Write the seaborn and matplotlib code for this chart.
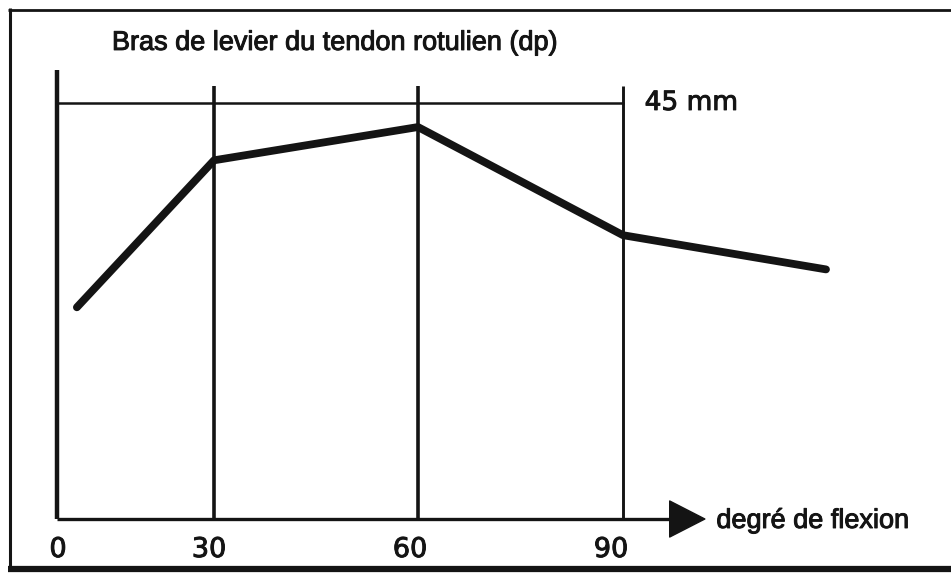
import numpy as np
import pandas as pd
import matplotlib
matplotlib.use('Agg')
import matplotlib.pyplot as plt
import matplotlib.patheffects as pe
import seaborn as sns

# Data (schematic: lever arm of the patellar tendon vs flexion)
flexion_deg = [3.8, 30, 60, 90, 120]
lever_arm_mm = [22.9, 38.8, 42.4, 30.7, 27.0]
tick_deg = [0, 30, 60, 90]
tick_labels = ['0', '30', '60', '90']
ref_mm = 45

df = pd.DataFrame({'deg': flexion_deg, 'mm': lever_arm_mm})

sns.set_style('white')
ink = '#141414'
bold = [pe.withStroke(linewidth=0.7, foreground=ink)]

# the drawing is not linear in x: piecewise scale between the grid lines
brk_deg = np.array([-100, 0, 30, 60, 90, 120, 300])
brk_px = np.array([57 - 100 * 156 / 30, 57, 214, 418, 623, 826, 826 + 180 * 205 / 30])

def fwd(x):
    return np.interp(x, brk_deg, brk_px)

def inv(p):
    return np.interp(p, brk_px, brk_deg)

fig = plt.figure(figsize=(9.51, 5.73), dpi=100)
ax = fig.add_axes([0, 0, 1, 1])
ax.set_xscale('function', functions=(fwd, inv))
ax.set_xlim(inv(0), inv(951))
px_per_mm = 416 / 45
ax.set_ylim(-54 / px_per_mm, 45 + 103 / px_per_mm)
ax.axis('off')

# y axis and reference grid
ax.plot([0, 0], [0, 48.6], color=ink, lw=3.2, solid_capstyle='butt')
for t, w in zip(tick_deg[1:], [2.6, 2.6, 2.1]):
    ax.plot([t, t], [0, 46.8], color=ink, lw=w, solid_capstyle='butt')
ax.plot([0, 90], [ref_mm, ref_mm], color=ink, lw=1.8)

# x axis with arrow head
ax.plot([0, 97.5], [0, 0], color=ink, lw=2.4, solid_capstyle='butt')
ax.fill([96.9, 102.1, 96.9], [1.95, 0, -1.95], color=ink, lw=1, ec=ink, joinstyle='round')

# data line
sns.lineplot(data=df, x='deg', y='mm', ax=ax, color=ink, lw=5.6,
             solid_capstyle='round', solid_joinstyle='round')

# texts
ax.text(10.5, 50.74, 'Bras de levier du tendon rotulien (dp)', fontsize=19.5,
        family='Liberation Sans', ha='left', va='baseline', color=ink, path_effects=bold)
ax.text(93.2, 44.25, '45 mm', fontsize=19, family='DejaVu Sans',
        ha='left', va='baseline', color=ink, path_effects=bold)
ax.text(103.8, -0.97, 'degré de flexion', fontsize=19.5, family='Liberation Sans',
        ha='left', va='baseline', color=ink, path_effects=bold)
for t, lab, dx in zip(tick_deg, tick_labels, [1, -5, -8, -12]):
    ax.annotate(lab, xy=(t, -4.11), xytext=(dx, 0), textcoords='offset pixels',
                fontsize=19.5, family='DejaVu Sans', ha='center', va='baseline',
                color=ink, path_effects=bold)

# outer frame
fr = dict(transform=ax.transAxes, color=ink, clip_on=False, solid_capstyle='butt')
ax.plot([8 / 951, 1], [1 - 9.5 / 573, 1 - 9.5 / 573], lw=2.0, **fr)
ax.plot([9.5 / 951, 9.5 / 951], [1 - 8 / 573, 4 / 573], lw=2.2, **fr)
ax.plot([8 / 951, 1], [4 / 573, 4 / 573], lw=4.5, **fr)

fig.savefig('out.png', dpi=100)
